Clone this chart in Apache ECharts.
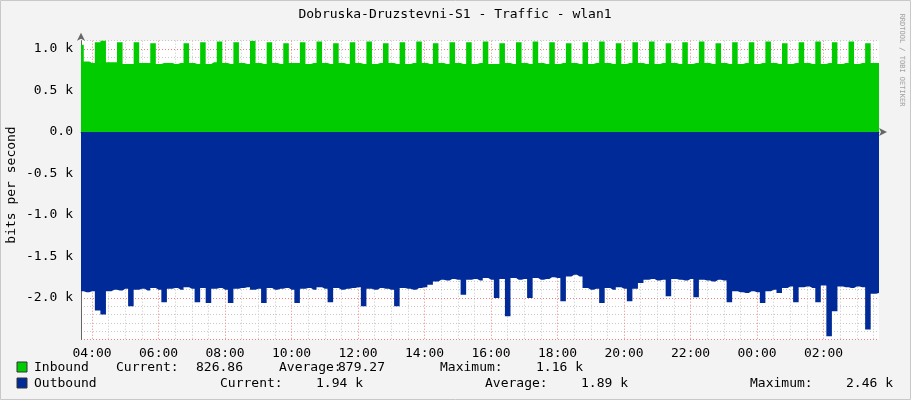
<!DOCTYPE html>
<html><head><meta charset="utf-8">
<script src="https://cdn.jsdelivr.net/npm/echarts@6/dist/echarts.min.js"></script>
<style>html,body{margin:0;padding:0;background:#f3f3f3}#c{width:911px;height:400px}</style>
</head><body><div id="c"></div>
<script>
// 10-minute samples from 03:40 to 03:40 next day (145 samples)
const startMinutes = 3*60+40;
const times = [];
for (let i = 0; i < 145; i++) { const m = (startMinutes + i*10) % 1440; times.push(String(Math.floor(m/60)).padStart(2,'0') + ':' + String(m%60).padStart(2,'0')); }

// inbound, k bits/s
const inbound = [
1.05,0.85,0.83,1.08,1.16,0.84,0.84,1.08,0.82,0.82,
1.08,0.83,0.83,1.07,0.82,0.83,0.83,0.82,0.83,1.07,
0.83,0.82,1.08,0.82,0.84,1.09,0.83,0.82,1.08,0.83,
0.82,1.10,0.83,0.82,1.08,0.83,0.82,1.07,0.83,0.83,
1.08,0.82,0.83,1.09,0.83,0.82,1.07,0.83,0.82,1.08,
0.83,0.82,1.09,0.82,0.83,1.07,0.83,0.82,1.08,0.82,
0.83,1.09,0.83,0.82,1.07,0.83,0.82,1.08,0.83,0.82,
1.08,0.82,0.83,1.09,0.82,0.82,1.07,0.83,0.82,1.08,
0.83,0.82,1.09,0.83,0.82,1.08,0.82,0.83,1.07,0.83,
0.82,1.08,0.82,0.83,1.09,0.83,0.82,1.07,0.82,0.83,
1.08,0.83,0.82,1.09,0.82,0.83,1.07,0.83,0.82,1.08,
0.82,0.83,1.09,0.83,0.82,1.07,0.83,0.82,1.08,0.82,
0.83,1.08,0.82,0.83,1.09,0.83,0.82,1.07,0.82,0.83,
1.08,0.83,0.82,1.09,0.82,0.83,1.08,0.82,0.83,1.09,
0.82,0.83,1.07,0.83,0.83];

// outbound magnitudes, k bits/s (drawn below zero)
const outbound = [
1.92,1.93,1.92,2.15,2.20,1.92,1.90,1.91,1.89,2.10,
1.90,1.89,1.91,1.88,1.90,2.05,1.89,1.88,1.90,1.87,
1.89,2.05,1.88,2.06,1.89,1.88,1.90,2.06,1.89,1.88,
1.87,1.90,1.89,2.06,1.88,1.90,1.89,1.88,1.90,2.06,
1.89,1.88,1.90,1.87,1.89,2.05,1.88,1.90,1.89,1.88,
1.87,2.10,1.89,1.90,1.88,1.89,1.90,2.10,1.88,1.89,
1.90,1.88,1.87,1.84,1.80,1.78,1.79,1.77,1.78,1.96,
1.78,1.77,1.79,1.76,1.78,2.00,1.77,2.22,1.76,1.78,
1.77,2.00,1.76,1.78,1.77,1.75,1.76,2.04,1.74,1.72,
1.74,1.88,1.90,1.89,2.06,1.88,1.90,1.87,1.89,2.04,
1.89,1.82,1.78,1.77,1.79,1.78,1.98,1.77,1.78,1.79,
1.77,1.99,1.78,1.79,1.80,1.78,1.79,2.05,1.92,1.93,
1.94,1.92,1.93,2.06,1.92,1.90,1.94,1.88,1.86,2.05,
1.87,1.86,1.88,2.05,1.85,2.46,2.16,1.86,1.87,1.88,
1.86,1.87,2.38,1.95,1.94];

const yTickLabels = ['-2.0 k','-1.5 k','-1.0 k','-0.5 k','0.0','0.5 k','1.0 k'];
const legendRows = [
  ['Inbound','Current:','826.86','Average:','879.27','Maximum:','1.16 k'],
  ['Outbound','Current:','1.94 k','Average:','1.89 k','Maximum:','2.46 k']
];

const F = 'DejaVu Sans Mono';
const chart = echarts.init(document.getElementById('c'));
const minorX = i => (i-2) % 3 === 0 && i >= 2;
const gridX = {
  lineStyle:{type:[1,2], width:1, color:['#f08080','#c8c8c8','#c8c8c8','#c8c8c8']}
};
const lp = [[34,116,196,279,338,440,536],[34,220,316,485,581,750,846]];
const graphics = [];
legendRows.forEach((row,r)=>{
  const y = 368 + r*16;
  graphics.push({type:'rect', shape:{x:17,y:y-6,width:10,height:10}, style:{fill: r===0?'#00cc00':'#002a97', stroke:'#333', lineWidth:1}});
  row.forEach((t,k)=>graphics.push({type:'text', x:lp[r][k], y:y, style:{text:t, font:'13px '+F, fill:'#000', textVerticalAlign:'middle'}}));
});
graphics.push({type:'text', x:455, y:15, style:{text:'Dobruska-Druzstevni-S1 - Traffic - wlan1', font:'13px '+F, fill:'#000', textAlign:'center', textVerticalAlign:'middle'}});
graphics.push({type:'text', x:12, y:185, rotation:Math.PI/2, style:{text:'bits per second', font:'13px '+F, fill:'#000', textAlign:'center', textVerticalAlign:'middle'}});
graphics.push({type:'text', x:902, y:60, rotation:-Math.PI/2, style:{text:'RRDTOOL / TOBI OETIKER', font:'7px '+F, fill:'#a0a0a0', textAlign:'center', textVerticalAlign:'middle'}});
graphics.push({type:'rect', shape:{x:0.5,y:0.5,width:910,height:399}, style:{fill:'none', stroke:'#c8c8c8', lineWidth:1}});

chart.setOption({
  backgroundColor:'#f3f3f3',
  animation:false,
  grid:{left:81, right:32, top:40.7, bottom:60.5, show:true, backgroundColor:'#fff', borderWidth:0},
  xAxis:{type:'category', data:times, boundaryGap:false,
    axisLine:{lineStyle:{color:'#666'}, symbol:['none','arrow'], symbolSize:[6,8], symbolOffset:[0,8]},
    axisTick:{show:true, interval:minorX, length:3, lineStyle:{color:'#888'}},
    axisLabel:{interval:i=>(i-2)%12===0 && i>=2, fontFamily:F, fontSize:13, color:'#000', margin:8},
    splitLine:{show:true, interval:minorX, lineStyle:gridX.lineStyle}},
  yAxis:{type:'value', min:-2.5, max:1.1, interval:0.1,
    axisLine:{show:true, onZero:false, lineStyle:{color:'#666'}, symbol:['none','arrow'], symbolSize:[6,8], symbolOffset:[0,8]},
    axisTick:{show:false},
    axisLabel:{fontFamily:F, fontSize:13, color:'#000', margin:8,
      formatter:v=>{const k=Math.round(v*10); if(k%5!==0||k<-20) return ''; return yTickLabels[k/5+4];}},
    splitLine:{show:true, lineStyle:{type:[1,2], width:1, color:['#f08080','#c8c8c8','#c8c8c8','#c8c8c8','#c8c8c8']}}},
  series:[
    {type:'line', data:inbound, step:'middle', symbol:'none', lineStyle:{width:0}, areaStyle:{color:'#00cc00', opacity:1}, z:3},
    {type:'line', data:outbound.map(v=>-v), step:'middle', symbol:'none', lineStyle:{width:0}, areaStyle:{color:'#002a97', opacity:1, origin:0}, z:3}
  ],
  graphic:graphics
});
</script></body></html>
